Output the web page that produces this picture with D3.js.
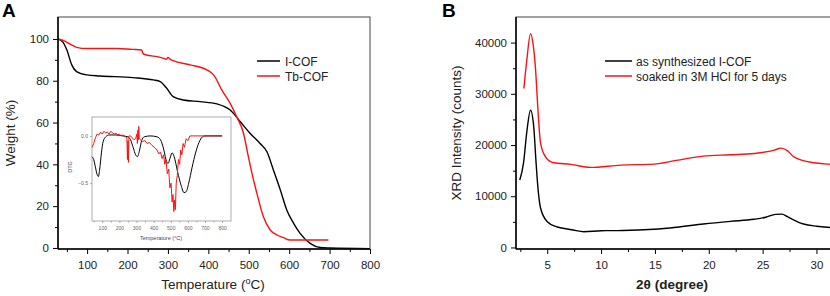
<!DOCTYPE html>
<html>
<head>
<meta charset="utf-8">
<script src="https://cdn.jsdelivr.net/npm/d3@7"></script>
<style>
  body { margin: 0; background: #fff; }
  svg { font-family: "Liberation Sans", Arial, sans-serif; }
</style>
</head>
<body>
<svg id="chart" width="830" height="296"></svg>
<script>
// TGA, panel A  [temperature, weight %]
var tgaICOF = [[28,100],[40,98.5],[50,94.7],[62,87.6],[74,84.4],[99,82.8],[132,82.3],[214,81.5],[264,80.4],[281,79.6],
  [297,76.4],[313,72.4],[338,70.8],[380,70],[421,68.9],[440,67.6],[454,66],[479,60.4],[503,54.9],[528,50],[545,46],
  [561,37.3],[578,27.8],[594,18.2],[611,11.8],[627,7],[652,2.2],[677,0.2],[700,0],[800,-0.3]];
var tgaTbCOF = [[28,100],[45,99],[58,97.5],[74,96],[99,95.4],[173,95.4],[214,95],[235,94.7],[239,92.8],[281,91.2],
  [297,90.3],[300,91.2],[306,90.2],[313,89.6],[355,87.6],[396,85.2],[413,82.8],[435,75],[454,69.2],[470,62.8],
  [487,54.9],[499,43.7],[508,35.7],[520,26.2],[536,15],[553,8.6],[570,6.2],[586,4.9],[602,3.8],[697,3.8]];

// DTG inset  [temperature, derivative]
var dtgICOF = [[40,-0.22],[50,-0.25],[60,-0.33],[70,-0.41],[77,-0.43],[85,-0.35],[95,-0.18],[105,-0.06],[120,-0.01],
  [140,0.01],[180,0.01],[220,0],[250,-0.01],[265,-0.04],[280,-0.12],[295,-0.2],[305,-0.22],[318,-0.15],[330,-0.05],
  [345,-0.01],[380,0],[420,-0.01],[440,-0.04],[460,-0.15],[475,-0.27],[485,-0.29],[495,-0.24],[508,-0.18],[520,-0.22],
  [540,-0.38],[560,-0.52],[578,-0.6],[590,-0.59],[605,-0.5],[625,-0.33],[645,-0.18],[665,-0.07],[685,-0.01],[700,0],[800,0]];
var dtgTbCOF = [[40,-0.12],[50,-0.08],[60,-0.02],[70,0.02],[80,0.01],[90,0.04],[100,0.02],[110,0.05],[120,0.03],
  [130,0.04],[140,0.02],[150,0.05],[160,0.03],[170,0.02],[180,0.03],[190,0.01],[200,0.02],[210,0],[220,0.01],
  [244,-0.02],[247,-0.25],[250,-0.05],[253,-0.28],[256,0],[265,0],[275,-0.02],[285,-0.04],[295,-0.03],[302,0.02],
  [305,-0.08],[308,0.06],[311,-0.04],[313,0.1],[316,-0.02],[322,-0.04],[335,-0.06],[348,-0.05],[362,-0.08],
  [376,-0.07],[390,-0.1],[405,-0.12],[420,-0.15],[430,-0.19],[440,-0.17],[450,-0.24],[458,-0.2],[465,-0.3],
  [472,-0.25],[480,-0.4],[488,-0.35],[495,-0.55],[502,-0.5],[508,-0.7],[513,-0.62],[518,-0.8],[522,-0.68],
  [527,-0.78],[532,-0.5],[538,-0.42],[545,-0.25],[552,-0.3],[558,-0.15],[565,-0.2],[572,-0.08],[580,-0.12],
  [590,-0.03],[600,-0.05],[612,0],[700,0],[800,0]];

// XRD, panel B  [2theta, counts]
var xrdICOF = [[2.45,13160],[2.8,16500],[3.1,22500],[3.45,26800],[3.75,23500],[3.95,17000],[4.1,12570],[4.38,7700],
  [5,5030],[5.93,4000],[6.86,3600],[7.4,3400],[8.4,3080],[10,3270],[12,3300],[14.9,3550],[17,3950],[19.5,4580],
  [22,5100],[24.2,5500],[25.3,5900],[26.2,6470],[26.8,6500],[27.3,6000],[28.8,4580],[30,4150],[31,3940],[32,3850]];
var xrdSoaked = [[2.83,31030],[3.1,36500],[3.45,41750],[3.7,39500],[3.9,35240],[4.15,26500],[4.38,20350],[4.84,17700],
  [5.6,16530],[7.2,16220],[9,15630],[11.8,16080],[14.9,16280],[17,17000],[19.5,17840],[22,18100],[24.2,18360],
  [26.1,19000],[26.7,19400],[27.3,18900],[27.9,17700],[29.8,16530],[31,16280],[32,16250]];

var tgaXTicks = [100, 200, 300, 400, 500, 600, 700, 800];
var tgaYTicks = [0, 20, 40, 60, 80, 100];
var dtgXTicks = [100, 200, 300, 400, 500, 600, 700, 800];
var dtgYTicks = [0, -0.5];
var xrdXTicks = [5, 10, 15, 20, 25, 30];
var xrdYTicks = [0, 10000, 20000, 30000, 40000];

var svg = d3.select("#chart");
var RED = "#ff1010", BLACK = "#000";

function frame(g, x, y) {
  var x0 = x.range()[0], x1 = x.range()[1], y0 = y.range()[0], y1 = y.range()[1];
  g.append("rect").attr("x", x0).attr("y", y1).attr("width", x1 - x0).attr("height", y0 - y1)
    .attr("fill", "none").attr("stroke", "#444").attr("stroke-width", 1);
  g.append("line").attr("x1", x0).attr("x2", x0).attr("y1", y1).attr("y2", y0).attr("stroke", "#000").attr("stroke-width", 1.5);
  g.append("line").attr("x1", x0).attr("x2", x1).attr("y1", y0).attr("y2", y0).attr("stroke", "#000").attr("stroke-width", 1.5);
}

function axes(g, x, y, xt, xminor, yt, yminor, xfmt, yfmt, fs, ts, pad) {
  var y0 = y.range()[0], x0 = x.range()[0];
  g.append("g").attr("transform", "translate(0," + y0 + ")")
    .call(d3.axisBottom(x).tickValues(xt).tickSize(ts).tickPadding(pad).tickFormat(xfmt));
  g.append("g").attr("transform", "translate(0," + y0 + ")")
    .call(d3.axisBottom(x).tickValues(xminor).tickSize(ts * 0.6).tickFormat(""));
  g.append("g").attr("transform", "translate(" + x0 + ",0)")
    .call(d3.axisLeft(y).tickValues(yt).tickSize(ts).tickPadding(pad - 3).tickFormat(yfmt));
  g.append("g").attr("transform", "translate(" + x0 + ",0)")
    .call(d3.axisLeft(y).tickValues(yminor).tickSize(ts * 0.6).tickFormat(""));
  g.selectAll(".domain").remove();
  g.selectAll(".tick text").attr("font-size", fs).attr("font-family", "Liberation Sans, Arial, sans-serif").attr("fill", "#222");
}

// ---------- Panel A ----------
var xA = d3.scaleLinear().domain([28, 800]).range([58, 370]);
var yA = d3.scaleLinear().domain([-0.5, 110.5]).range([249, 17]);
var gA = svg.append("g");
axes(gA, xA, yA, tgaXTicks, d3.range(50, 800, 100), tgaYTicks, d3.range(10, 110, 20),
  d3.format("d"), d3.format("d"), 11.5, 5, 7);

var lineA = d3.line().x(function (d) { return xA(d[0]); }).y(function (d) { return yA(d[1]); })
  .curve(d3.curveMonotoneX);
gA.append("path").datum(tgaICOF).attr("d", lineA).attr("fill", "none").attr("stroke", BLACK).attr("stroke-width", 1.4);
gA.append("path").datum(tgaTbCOF).attr("d", lineA).attr("fill", "none").attr("stroke", RED).attr("stroke-width", 1.4);
frame(gA, xA, yA);

// inset
var xI = d3.scaleLinear().domain([40, 852]).range([92, 231]);
var yI = d3.scaleLinear().domain([-0.9, 0.2]).range([221, 117]);
var gI = gA.append("g");
gI.append("rect").attr("x", 92).attr("y", 117).attr("width", 139).attr("height", 104)
  .attr("fill", "#fff").attr("stroke", "#999").attr("stroke-width", 0.8);
gI.append("g").attr("transform", "translate(0,221)")
  .call(d3.axisBottom(xI).tickValues(dtgXTicks).tickSize(2).tickPadding(3).tickFormat(d3.format("d")));
gI.append("g").attr("transform", "translate(0,221)")
  .call(d3.axisBottom(xI).tickValues(d3.range(50, 850, 100)).tickSize(1.5).tickFormat(""));
gI.append("g").attr("transform", "translate(92,0)")
  .call(d3.axisLeft(yI).tickValues(dtgYTicks).tickSize(2).tickPadding(2).tickFormat(d3.format(".1f")));
gI.selectAll(".domain").remove();
gI.selectAll(".tick line").attr("stroke", "#777").attr("stroke-width", 0.6);
gI.selectAll(".tick text").attr("font-size", 5).attr("fill", "#666");
var lineI = d3.line().x(function (d) { return xI(d[0]); }).y(function (d) { return yI(d[1]); });
gI.append("path").datum(dtgICOF).attr("d", lineI.curve(d3.curveMonotoneX)).attr("fill", "none")
  .attr("stroke", BLACK).attr("stroke-width", 1);
gI.append("path").datum(dtgTbCOF).attr("d", lineI.curve(d3.curveLinear)).attr("fill", "none")
  .attr("stroke", RED).attr("stroke-width", 1);
gI.append("text").attr("x", 161).attr("y", 240).attr("text-anchor", "middle").attr("font-size", 5.5)
  .attr("fill", "#446").text("Temperature (°C)");
gI.append("text").attr("transform", "translate(72,167) rotate(-90)").attr("text-anchor", "middle")
  .attr("font-size", 5.5).attr("fill", "#446").text("DTG");

// legend A
var legA = [["I-COF", BLACK, 61], ["Tb-COF", RED, 76]];
legA.forEach(function (l) {
  gA.append("line").attr("x1", 257).attr("x2", 280).attr("y1", l[2]).attr("y2", l[2]).attr("stroke", l[1]).attr("stroke-width", 1.5);
  gA.append("text").attr("x", 285).attr("y", l[2] + 4.5).attr("font-size", 12).attr("fill", "#222").text(l[0]);
});

gA.append("text").attr("x", 213).attr("y", 289).attr("text-anchor", "middle").attr("font-size", 13.5).attr("fill", "#222")
  .html('Temperature (<tspan baseline-shift="super" font-size="9">o</tspan>C)');
gA.append("text").attr("transform", "translate(15,133) rotate(-90)").attr("text-anchor", "middle")
  .attr("font-size", 13.5).attr("fill", "#222").text("Weight (%)");
svg.append("text").attr("x", 2).attr("y", 17).attr("font-size", 19).attr("font-weight", "bold").text("A");

// ---------- Panel B ----------
var xB = d3.scaleLinear().domain([2.1, 32]).range([516, 838]);
var yB = d3.scaleLinear().domain([-300, 45000]).range([249, 17]);
var gB = svg.append("g");
axes(gB, xB, yB, xrdXTicks, d3.range(2.5, 32, 5), xrdYTicks, d3.range(5000, 45000, 10000),
  d3.format("d"), d3.format("d"), 11.5, 5, 7);
var lineB = d3.line().x(function (d) { return xB(d[0]); }).y(function (d) { return yB(d[1]); })
  .curve(d3.curveMonotoneX);
gB.append("path").datum(xrdICOF).attr("d", lineB).attr("fill", "none").attr("stroke", BLACK).attr("stroke-width", 1.4);
gB.append("path").datum(xrdSoaked).attr("d", lineB).attr("fill", "none").attr("stroke", RED).attr("stroke-width", 1.4);
frame(gB, xB, yB);

var legB = [["as synthesized I-COF", BLACK, 61], ["soaked in 3M HCl for 5 days", RED, 76]];
legB.forEach(function (l) {
  gB.append("line").attr("x1", 605).attr("x2", 632).attr("y1", l[2]).attr("y2", l[2]).attr("stroke", l[1]).attr("stroke-width", 1.5);
  gB.append("text").attr("x", 636).attr("y", l[2] + 4.5).attr("font-size", 12).attr("fill", "#222").text(l[0]);
});
gB.append("text").attr("x", 672).attr("y", 289).attr("text-anchor", "middle").attr("font-size", 13.5)
  .attr("font-weight", "bold").attr("fill", "#222").text("2θ (degree)");
gB.append("text").attr("transform", "translate(461,133) rotate(-90)").attr("text-anchor", "middle")
  .attr("font-size", 13.5).attr("fill", "#222").text("XRD Intensity (counts)");
svg.append("text").attr("x", 442).attr("y", 17).attr("font-size", 19).attr("font-weight", "bold").text("B");
</script>
</body>
</html>
